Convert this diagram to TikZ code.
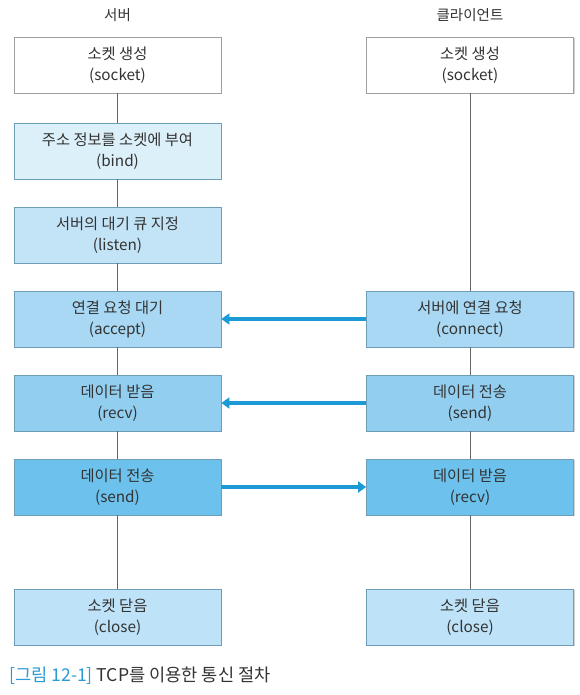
\documentclass[tikz,border=0pt]{standalone}
\usepackage{fontspec}
\setmainfont{Noto Sans CJK KR}
\usetikzlibrary{shadows,arrows.meta}
\definecolor{cA}{HTML}{DCF0FA}
\definecolor{cB}{HTML}{C3E4F7}
\definecolor{cC}{HTML}{A8D8F3}
\definecolor{cD}{HTML}{92CEF0}
\definecolor{cE}{HTML}{6CC2EC}
\definecolor{cF}{HTML}{BEE2F7}
\definecolor{bord}{HTML}{6E9DBA}
\definecolor{arr}{HTML}{1B9AD6}
\definecolor{capblue}{HTML}{2A9BD6}
\definecolor{txt}{HTML}{333333}
\tikzset{
  box/.style={draw=bord, line width=0.8pt, minimum width=207pt, minimum height=56pt,
    align=center, font=\fontsize{15.3}{21}\selectfont, text=txt, inner sep=0pt,
    drop shadow={shadow xshift=1.2pt, shadow yshift=-1.2pt, opacity=0.35, fill=gray}},
  wbox/.style={box, draw=gray!75, fill=white},
  vline/.style={draw=gray!80!black, line width=0.7pt},
  msg/.style={draw=arr, line width=3.5pt, -{Triangle[length=8pt,width=11pt]}},
  head/.style={font=\fontsize{14.5}{16}\selectfont, text=txt}
}
\begin{document}
\begin{tikzpicture}[x=1pt,y=-1pt]
\useasboundingbox (0,0) rectangle (580,695);
\fill[white] (0,0) rectangle (580,695);
\node[head] (hs) at (117.5,15) {서버};
\node[head] (hc) at (470,15) {클라이언트};
% server
\node[wbox] (s1) at (117.5,65) {소켓 생성\\(socket)};
\node[box, fill=cA] (s2) at (117.5,151) {주소 정보를 소켓에 부여\\(bind)};
\node[box, fill=cB] (s3) at (117.5,235) {서버의 대기 큐 지정\\(listen)};
\node[box, fill=cC] (s4) at (117.5,319) {연결 요청 대기\\(accept)};
\node[box, fill=cD] (s5) at (117.5,403) {데이터 받음\\(recv)};
\node[box, fill=cE] (s6) at (117.5,487) {데이터 전송\\(send)};
\node[box, fill=cF] (s7) at (117.5,617) {소켓 닫음\\(close)};
% client
\node[wbox] (c1) at (470,65) {소켓 생성\\(socket)};
\node[box, fill=cC] (c4) at (470,319) {서버에 연결 요청\\(connect)};
\node[box, fill=cD] (c5) at (470,403) {데이터 전송\\(send)};
\node[box, fill=cE] (c6) at (470,487) {데이터 받음\\(recv)};
\node[box, fill=cF] (c7) at (470,617) {소켓 닫음\\(close)};
% lines
\draw[vline] (s1.south) -- (s2.north);
\draw[vline] (s2.south) -- (s3.north);
\draw[vline] (s3.south) -- (s4.north);
\draw[vline] (s4.south) -- (s5.north);
\draw[vline] (s5.south) -- (s6.north);
\draw[vline] (s6.south) -- (s7.north);
\draw[vline] (c1.south) -- (c4.north);
\draw[vline] (c4.south) -- (c5.north);
\draw[vline] (c5.south) -- (c6.north);
\draw[vline] (c6.south) -- (c7.north);
% messages
\draw[msg] (c4.west) -- (s4.east);
\draw[msg] (c5.west) -- (s5.east);
\draw[msg] (s6.east) -- (c6.west);
% caption
\node[anchor=west, font=\fontsize{17.6}{19}\selectfont, inner sep=0pt] (cap) at (9,676)
  {\textcolor{capblue}{[그림 12-1]} \textcolor{txt}{TCP를 이용한 통신 절차}};
\end{tikzpicture}
\end{document}
